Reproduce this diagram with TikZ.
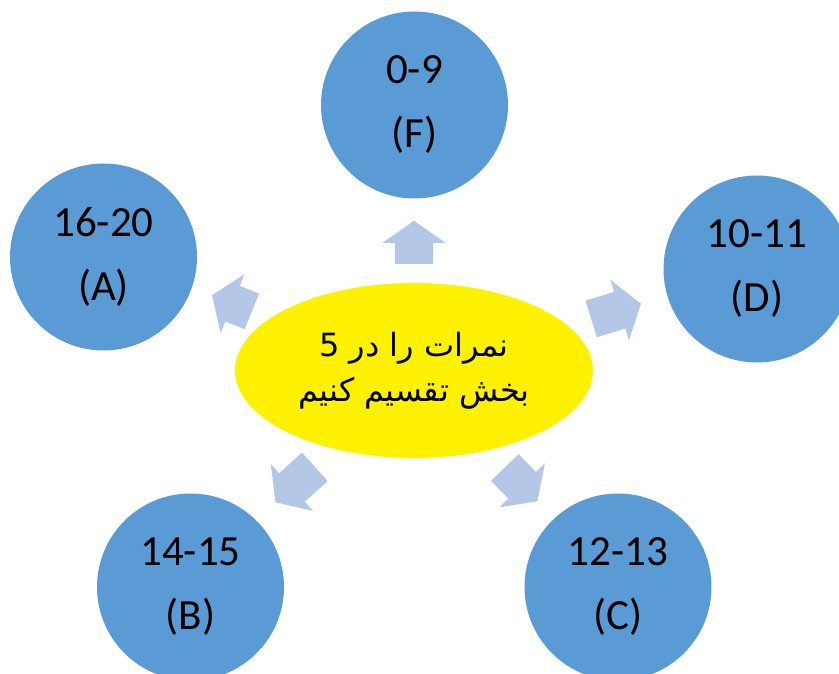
\documentclass[tikz,border=0pt]{standalone}
\usepackage{fontspec}
\usepackage{tikz}
\usetikzlibrary{shapes.geometric,shapes.arrows}
\setmainfont{Carlito}
\newfontfamily\arabicfont[Script=Arabic]{DejaVu Sans}
\TeXXeTstate=1
\definecolor{gradeblue}{HTML}{5B9BD5}
\definecolor{arrowblue}{HTML}{B4C7E7}
\tikzset{
         grade/.style=
          {
           circle,fill=gradeblue,minimum size=187pt,inner sep=0pt,
           align=center,font=\fontsize{43}{64}\selectfont
          },
         blockarrow/.style=
          {
           single arrow,fill=arrowblue,inner xsep=0pt,inner ysep=19pt,
           single arrow head extend=12.5pt,single arrow tip angle=110,
           minimum height=#1,anchor=tail
          },
         blockarrow/.default=46pt
        }

\begin{document}
\begin{tikzpicture}[x=1pt,y=1pt]
\useasboundingbox (0,0) rectangle (839,674);
\clip (0,0) rectangle (839,674);
%centre
\node[ellipse,fill=yellow,minimum width=358pt,minimum height=175pt,inner sep=0pt,align=center,
      font=\arabicfont\fontsize{32}{45}\selectfont] (split) at (414,303.5)
      {\beginR نمرات را در 5\endR\\\beginR بخش تقسیم کنیم\endR};
%grades
\node[grade] (F) at (414.5,569) {0-9\\(F)};
\node[grade] (A) at (103.5,417) {16-20\\(A)};
\node[grade] (D) at (757,405) {10-11\\(D)};
\node[grade] (B) at (190.5,87) {14-15\\(B)};
\node[grade] (C) at (618,87) {12-13\\(C)};
%arrows
\node[blockarrow=43pt,rotate=90] (toF) at (414,410) {};
\node[blockarrow=43pt,rotate=158] (toA) at (252,362.5) {};
\node[blockarrow=52pt,rotate=17] (toD) at (591,355) {};
\node[blockarrow=53pt,rotate=222] (toB) at (315,207.3) {};
\node[blockarrow=47pt,rotate=314] (toC) at (504.7,206.7) {};
\end{tikzpicture}
\end{document}
